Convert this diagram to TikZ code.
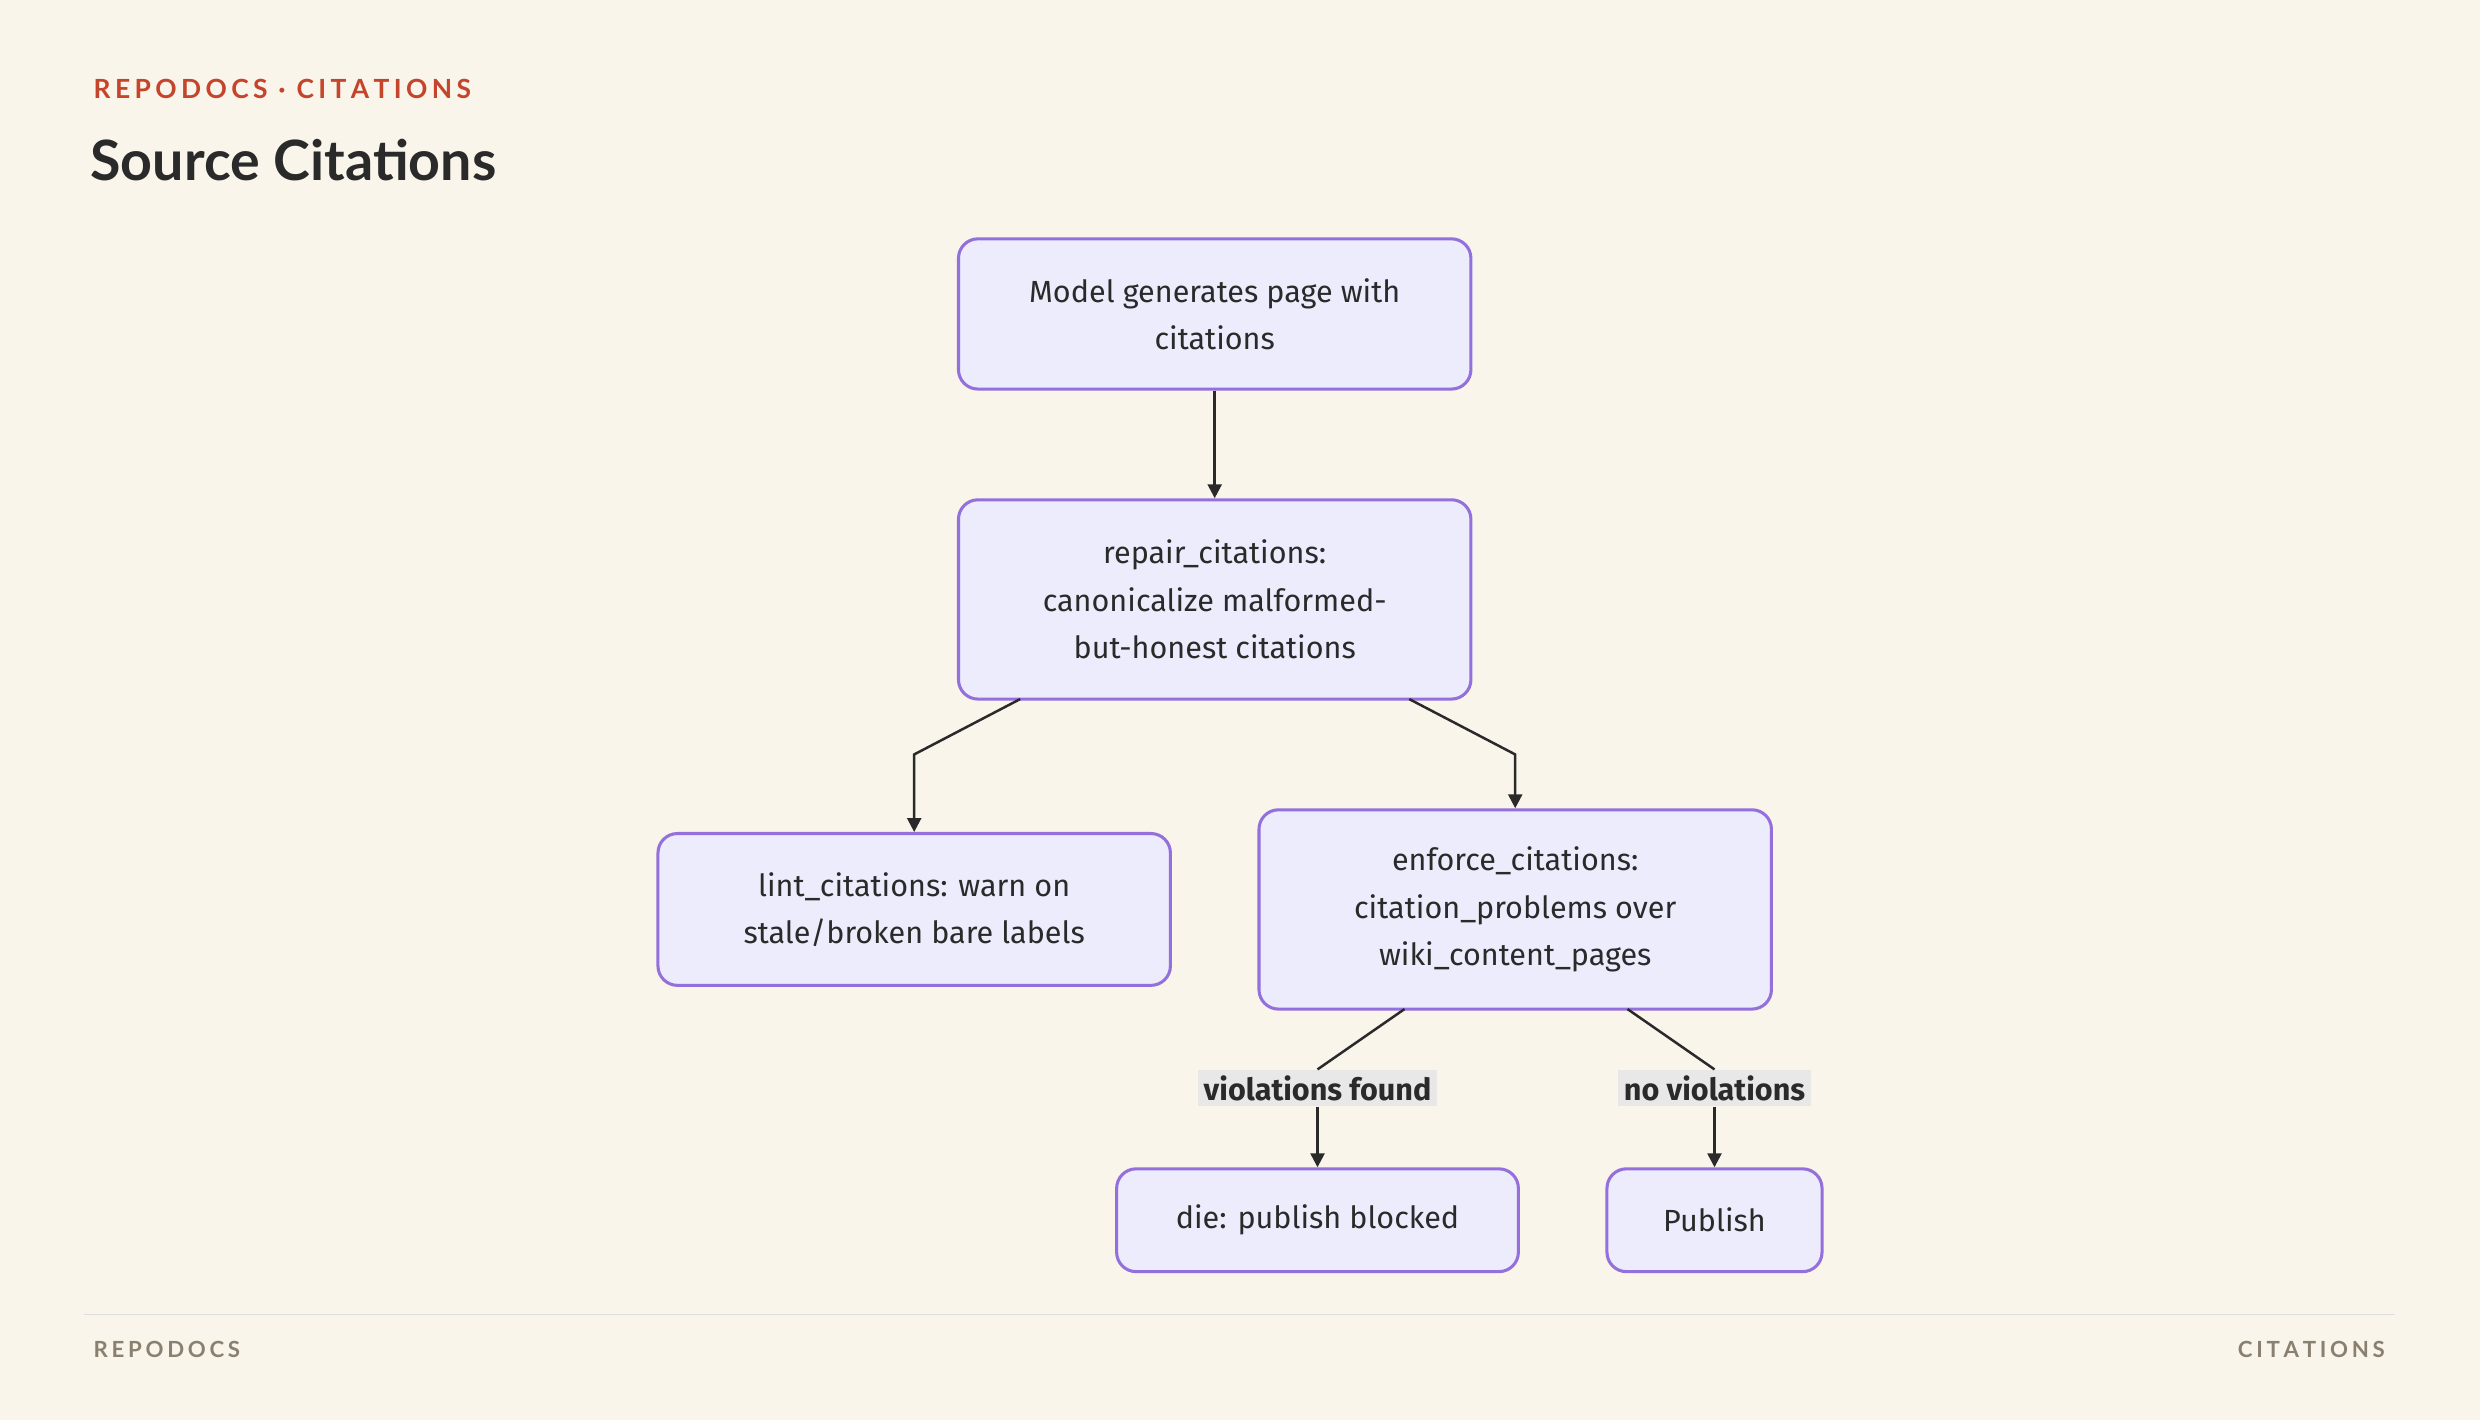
\documentclass[tikz,border=0pt]{standalone}
\usepackage{fontspec}
\setmainfont{Fira Sans}
\newfontfamily\headfont{Lato}
\usetikzlibrary{arrows.meta}
\definecolor{bg}{HTML}{F9F5EA}
\definecolor{nfill}{HTML}{ECECFC}
\definecolor{nstroke}{HTML}{9370DB}
\definecolor{accent}{HTML}{C4452B}
\definecolor{ink}{HTML}{2A2A2A}
\definecolor{foot}{HTML}{8A8070}
\definecolor{lblbg}{HTML}{E8E8E8}
\begin{document}
\begin{tikzpicture}[x=0.02cm,y=-0.02cm,
  box/.style={draw=nstroke,fill=nfill,line width=1.1pt,rounded corners=7pt,align=center,
    font=\fontsize{11}{17}\selectfont,text=ink,inner sep=0pt},
  arr/.style={draw=ink,line width=0.9pt,-{Triangle[length=5pt,width=5pt]}},
  ln/.style={draw=ink,line width=0.9pt},
  lbl/.style={fill=lblbg,font=\bfseries\fontsize{11}{13}\selectfont,text=ink,inner sep=2pt}]
\fill[bg] (0,0) rectangle (1568,898);
\useasboundingbox (0,0) rectangle (1568,898);
\node[anchor=west,text=accent,font=\headfont\bfseries\fontsize{9.5}{11}\selectfont] (hd) at (53,56) {R\,E\,P\,O\,D\,O\,C\,S \,·\, C\,I\,T\,A\,T\,I\,O\,N\,S};
\node[anchor=west,text=ink,font=\headfont\bfseries\fontsize{20}{24}\selectfont] (tt) at (51,101) {Source Citations};
\node[box,minimum width=324*0.02cm,minimum height=95*0.02cm] (A) at (768,198.5) {Model generates page with\\citations};
\node[box,minimum width=324*0.02cm,minimum height=126*0.02cm] (B) at (768,379) {repair\_citations:\\canonicalize malformed-\\but-honest citations};
\node[box,minimum width=324*0.02cm,minimum height=96*0.02cm] (C) at (578,575) {lint\_citations: warn on\\stale/broken bare labels};
\node[box,minimum width=324*0.02cm,minimum height=126*0.02cm] (D) at (958,575) {enforce\_citations:\\citation\_problems over\\wiki\_content\_pages};
\node[box,minimum width=254*0.02cm,minimum height=65*0.02cm] (E) at (833,771.5) {die: publish blocked};
\node[box,minimum width=136*0.02cm,minimum height=65*0.02cm] (F) at (1084,771.5) {Publish};
\draw[arr] (A) -- (B);
\coordinate (b1) at (645,442); \coordinate (k1) at (578,477);
\coordinate (b2) at (891,442); \coordinate (k2) at (958,477);
\draw[arr] (b1) -- (k1) -- (C.north);
\draw[arr] (b2) -- (k2) -- (D.north);
\coordinate (d1) at (888,638); \coordinate (d2) at (1029,638);
\node[lbl] (L1) at (833,688) {violations found};
\node[lbl] (L2) at (1084,688) {no violations};
\draw[ln] (d1) -- (L1.north);
\draw[arr] (L1.south) -- (E.north);
\draw[ln] (d2) -- (L2.north);
\draw[arr] (L2.south) -- (F.north);
\draw[draw=black!13,line width=0.6pt] (53,831) -- (1514,831);
\node[anchor=west,text=foot,font=\headfont\bfseries\fontsize{8}{10}\selectfont] (f1) at (53,853) {R\,E\,P\,O\,D\,O\,C\,S};
\node[anchor=east,text=foot,font=\headfont\bfseries\fontsize{8}{10}\selectfont] (f2) at (1514,853) {C\,I\,T\,A\,T\,I\,O\,N\,S};
\end{tikzpicture}
\end{document}
